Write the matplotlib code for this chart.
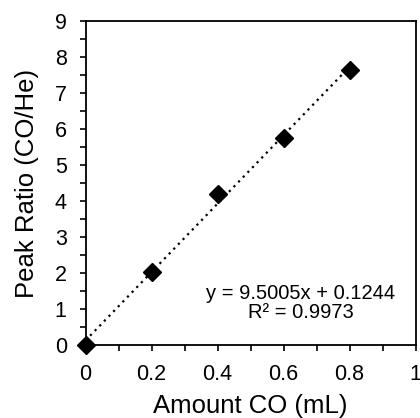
import matplotlib
matplotlib.use("Agg")
import matplotlib.pyplot as plt
import numpy as np

plt.rcParams['font.family'] = ['Liberation Sans', 'DejaVu Sans']

amount_co = [0.0, 0.2, 0.4, 0.6, 0.8]
peak_ratio = [0.0, 2.04, 4.19, 5.74, 7.65]
slope = 9.5005
intercept = 0.1244
eq_text = "y = 9.5005x + 0.1244\nR² = 0.9973"

fig = plt.figure(figsize=(4.2, 4.18), dpi=100)
ax = fig.add_axes([85.5/420, (418-345)/418, (415.5-85.5)/420, (345-21)/418])

xf = np.array([amount_co[0], amount_co[-1]])
ax.plot(xf, slope*xf + intercept, linestyle=(0, (1, 2)), color='black', linewidth=1.6, zorder=2)
ax.plot(amount_co, peak_ratio, linestyle='none', marker='D', markersize=8.7,
        color='black', zorder=3, clip_on=False)

ax.set_xlim(0, 1)
ax.set_ylim(0, 9)
ax.set_xticks([0, 0.2, 0.4, 0.6, 0.8, 1])
ax.set_xticklabels(['0', '0.2', '0.4', '0.6', '0.8', '1'])
ax.set_yticks(range(10))
ax.set_xticks(np.arange(0.1, 1.0, 0.2), minor=True)
ax.set_yticks(np.arange(0.5, 9, 1), minor=True)
ax.tick_params(which='both', direction='out', length=4.5, width=1.2, labelsize=15.5, color='black')
ax.tick_params(axis='y', which='both', pad=9)
ax.tick_params(axis='x', which='both', pad=9.5)
for s in ax.spines.values():
    s.set_linewidth(1.3)

ax.set_xlabel('Amount CO (mL)', fontsize=18.5, labelpad=6)
ax.set_ylabel('Peak Ratio (CO/He)', fontsize=18.5, labelpad=11)

ax.text(0.652, 1.17, eq_text, ha='center', va='center', fontsize=14.5, linespacing=1.0)

fig.savefig('out.png', dpi=100)
